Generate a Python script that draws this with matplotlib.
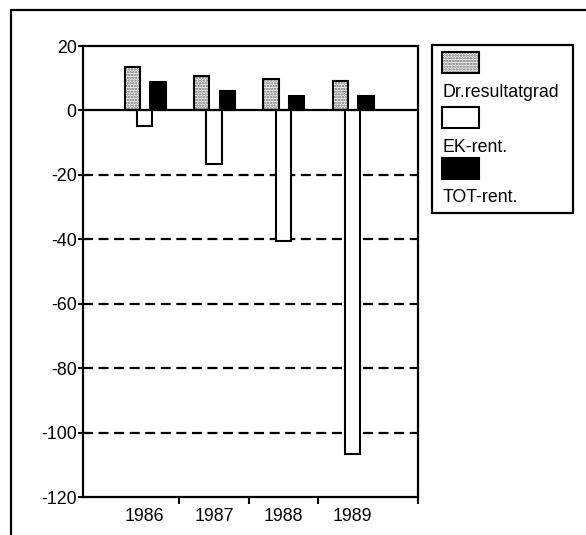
import numpy as np
import matplotlib.pyplot as plt
from matplotlib.patches import Rectangle
from matplotlib.lines import Line2D

plt.rcParams['font.family'] = ['Liberation Sans', 'DejaVu Sans']
plt.rcParams['hatch.linewidth'] = 1.2

years = ['1986', '1987', '1988', '1989']
series = ['Dr.resultatgrad', 'EK-rent.', 'TOT-rent.']
dr_resultatgrad = [13.5, 10.6, 9.9, 9.0]
ek_rent = [-4.8, -16.6, -40.5, -106.8]
tot_rent = [8.8, 6.0, 4.5, 4.5]
y_ticks = [20, 0, -20, -40, -60, -80, -100, -120]

FS = 12.8
fig = plt.figure(figsize=(5.86, 5.35), dpi=100)
ax = fig.add_axes([0.1416, 0.071, 0.5717, 0.843])

x = np.arange(len(years))
w = 0.22
# stippled grey bars: dotted fill then black outline
ax.bar(x - 0.18, dr_resultatgrad, w, color='white', hatch='......',
       edgecolor='#606060', linewidth=0, zorder=3)
ax.bar(x - 0.18, dr_resultatgrad, w, fill=False, edgecolor='black',
       linewidth=1.5, zorder=4)
ax.bar(x, ek_rent, w, color='white', edgecolor='black', linewidth=1.5, zorder=4)
ax.bar(x + 0.19, tot_rent, w, color='black', edgecolor='black',
       linewidth=1.5, zorder=4)

ax.set_xlim(-0.89, 3.94)
ax.set_ylim(-120, 20)
ax.set_yticks(y_ticks)
ax.set_yticklabels([str(v) for v in y_ticks], fontsize=FS)
ax.set_xticks([0.5, 1.5, 2.5, 3.94], labels=['', '', '', ''])
ax.set_xticks(x, labels=years, minor=True, fontsize=FS)
ax.tick_params(axis='x', which='minor', length=0, pad=8)
ax.tick_params(axis='x', which='major', direction='out', length=5, width=1.5)
ax.tick_params(axis='y', direction='inout', length=7, width=1.5, pad=1)

for v in [-20, -40, -60, -80, -100]:
    ax.axhline(v, color='black', linestyle=(0, (4.5, 2.5)), linewidth=1.6, zorder=2)
ax.axhline(0, color='black', linewidth=1.6, zorder=5)

for s in ax.spines.values():
    s.set_linewidth(1.6)

# outer frame (left and top only visible in scan)
fig.add_artist(Line2D([11/586, 11/586, 1.0], [0.0, 1 - 10/535, 1 - 10/535],
                      transform=fig.transFigure, color='black', linewidth=1.6))

# legend box, labels under each swatch
fig.add_artist(Rectangle((432/586, 1 - 213/535), 141/586, 168/535,
                         transform=fig.transFigure, fill=False,
                         edgecolor='black', linewidth=1.6))
sw_tops = [52, 107, 158]
fills = [dict(facecolor='white', hatch='......', edgecolor='#606060', linewidth=0),
         dict(facecolor='white', edgecolor='black', linewidth=1.5),
         dict(facecolor='black', edgecolor='black', linewidth=1.5)]
for top, name, f in zip(sw_tops, series, fills):
    fig.add_artist(Rectangle((442/586, 1 - (top + 21)/535), 37/586, 21/535,
                             transform=fig.transFigure, **f))
    if name == series[0]:
        fig.add_artist(Rectangle((442/586, 1 - (top + 21)/535), 37/586, 21/535,
                                 transform=fig.transFigure, fill=False,
                                 edgecolor='black', linewidth=1.5))
    fig.text(443/586, 1 - (top + 40)/535, name, fontsize=FS,
             va='center', ha='left')

fig.savefig('out.png', dpi=100)
